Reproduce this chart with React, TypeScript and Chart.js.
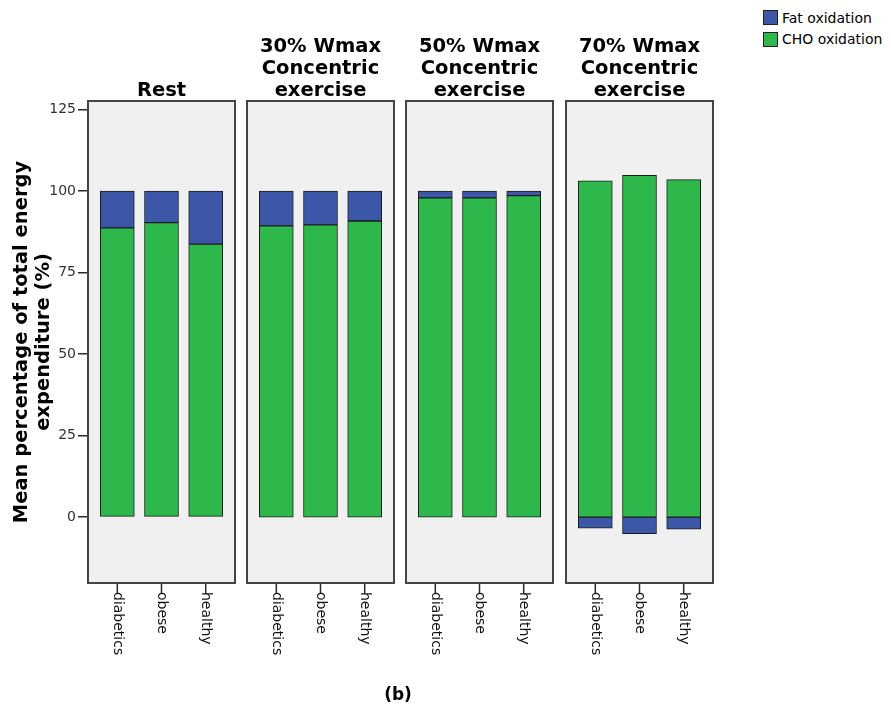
import { useEffect, useRef } from 'react';
import { Chart, registerables } from 'chart.js';

Chart.register(...registerables);

// Groups shown within every condition panel
const groups = ['diabetics', 'obese', 'healthy'];

// One panel per exercise condition
const conditionTitles = [
  ['Rest'],
  ['30% Wmax', 'Concentric', 'exercise'],
  ['50% Wmax', 'Concentric', 'exercise'],
  ['70% Wmax', 'Concentric', 'exercise'],
];

// Mean share of total energy expenditure (%), per condition then group
const choOxidation = [
  [88.7, 90.3, 83.7],
  [89.3, 89.6, 90.8],
  [97.9, 97.9, 98.6],
  [103.1, 104.8, 103.5],
];
const fatOxidation = [
  [11.3, 9.7, 16.3],
  [10.7, 10.4, 9.2],
  [2.1, 2.1, 1.4],
  [-3.4, -5.1, -3.7],
];

const yTickValues = [0, 25, 50, 75, 100, 125];
const yRange = { min: -20.2, max: 127.6 };
const yAxisTitle = ['Mean percentage of total energy', 'expenditure (%)'];
const seriesNames = ['Fat oxidation', 'CHO oxidation'];
const figureLabel = '(b)';

const FAT_COLOR = '#3c56a8';
const CHO_COLOR = '#2eb84b';
const BAR_EDGE = '#1c1c1c';
const PANEL_FILL = '#f0f0f0';
const PANEL_EDGE = '#454545';
const FONT = '"DejaVu Sans", Verdana, sans-serif';

const CANVAS_W = 891;
const CANVAS_H = 711;
const PANEL_TOP = 101;
const PANEL_BOTTOM = 583;
const PANEL_WIDTH = 147;
const panelLefts = [88, 247, 406, 566];
const SIDE = 8;

function framePlugin(index: number) {
  return {
    id: 'panelFrame',
    beforeDatasetsDraw(chart: any) {
      const { ctx, chartArea: a } = chart;
      ctx.save();
      ctx.fillStyle = PANEL_FILL;
      ctx.fillRect(a.left, a.top, a.right - a.left, a.bottom - a.top);
      ctx.restore();
    },
    afterDatasetsDraw(chart: any) {
      const { ctx, chartArea: a } = chart;
      ctx.save();
      ctx.strokeStyle = PANEL_EDGE;
      ctx.lineWidth = 2;
      ctx.strokeRect(a.left, a.top, a.right - a.left, a.bottom - a.top);
      ctx.restore();
    },
    afterDraw(chart: any) {
      const { ctx, chartArea: a } = chart;
      const xScale = chart.scales.x;
      ctx.save();
      // category ticks and labels, reading downwards
      ctx.strokeStyle = '#2a2a2a';
      ctx.lineWidth = 1.5;
      ctx.fillStyle = '#111';
      ctx.font = `14px ${FONT}`;
      ctx.textAlign = 'left';
      ctx.textBaseline = 'middle';
      groups.forEach((g, i) => {
        const x = xScale.getPixelForValue(i);
        ctx.beginPath();
        ctx.moveTo(x, a.bottom + 1);
        ctx.lineTo(x, a.bottom + 11);
        ctx.stroke();
        ctx.save();
        ctx.translate(x, a.bottom + 9);
        ctx.rotate(Math.PI / 2);
        ctx.fillText(g, 0, 0);
        ctx.restore();
      });
      // condition heading, bottom line sits just above the panel
      const lines = conditionTitles[index];
      ctx.fillStyle = '#000';
      ctx.font = `bold 19.5px ${FONT}`;
      ctx.textAlign = 'center';
      ctx.textBaseline = 'alphabetic';
      const cx = (a.left + a.right) / 2;
      lines.forEach((line, k) => {
        const y = a.top - 5 - (lines.length - 1 - k) * 22;
        ctx.fillText(line, cx, y);
      });
      ctx.restore();
    },
  };
}

function Panel({ index }: { index: number }) {
  const ref = useRef<HTMLCanvasElement | null>(null);
  const first = index === 0;
  const left = first ? 0 : panelLefts[index] - SIDE;
  const width = first ? panelLefts[0] + PANEL_WIDTH + SIDE : PANEL_WIDTH + 2 * SIDE;

  useEffect(() => {
    if (!ref.current) return;
    const chart = new Chart(ref.current, {
      type: 'bar',
      data: {
        datasets: [
          {
            label: seriesNames[1],
            data: groups.map((_, i) => ({ x: i, y: choOxidation[index][i] })),
            backgroundColor: CHO_COLOR,
            borderColor: BAR_EDGE,
            borderWidth: 1,
            borderSkipped: false,
            barThickness: 34,
          },
          {
            label: seriesNames[0],
            data: groups.map((_, i) => ({ x: i, y: fatOxidation[index][i] })),
            backgroundColor: FAT_COLOR,
            borderColor: BAR_EDGE,
            borderWidth: 1,
            borderSkipped: false,
            barThickness: 34,
          },
        ],
      },
      options: {
        responsive: false,
        animation: false,
        events: [],
        layout: {
          padding: {
            top: PANEL_TOP,
            bottom: CANVAS_H - PANEL_BOTTOM,
            left: first ? 0 : SIDE,
            right: SIDE,
          },
        },
        plugins: {
          legend: { display: false },
          tooltip: { enabled: false },
          title: { display: false },
        },
        scales: {
          x: {
            type: 'linear',
            min: -0.663,
            max: 2.663,
            offset: false,
            stacked: true,
            display: false,
            afterBuildTicks: (s: any) => {
              s.ticks = groups.map((_, i) => ({ value: i }));
            },
          },
          y: {
            type: 'linear',
            stacked: true,
            min: yRange.min,
            max: yRange.max,
            display: first,
            afterBuildTicks: (s: any) => {
              s.ticks = yTickValues.map((v) => ({ value: v }));
            },
            afterFit: (s: any) => {
              s.width = first ? panelLefts[0] : 0;
            },
            grid: {
              drawOnChartArea: false,
              drawTicks: true,
              tickLength: 10,
              color: '#2a2a2a',
              lineWidth: 1.5,
            },
            border: { display: false },
            ticks: {
              font: { family: FONT, size: 14 },
              color: '#333',
              padding: 2,
            },
            title: {
              display: true,
              text: yAxisTitle,
              color: '#000',
              font: { family: FONT, size: 19.5, weight: 'bold', lineHeight: 1.13 },
              padding: { top: 11, bottom: 0 },
            },
          },
        },
      },
      plugins: [framePlugin(index)],
    } as any);
    return () => chart.destroy();
  }, [index]);

  return (
    <canvas
      ref={ref}
      width={width}
      height={CANVAS_H}
      style={{ position: 'absolute', left, top: 0, width, height: CANVAS_H }}
    />
  );
}

const legendColors = [FAT_COLOR, CHO_COLOR];

export default function App() {
  return (
    <div
      style={{
        position: 'absolute',
        left: 0,
        top: 0,
        width: CANVAS_W,
        height: CANVAS_H,
        background: '#fff',
        overflow: 'hidden',
      }}
    >
      {conditionTitles.map((_, i) => (
        <Panel key={i} index={i} />
      ))}
      {seriesNames.map((name, k) => (
        <div
          key={name}
          style={{
            position: 'absolute',
            left: 763,
            top: 10 + k * 21.7,
            height: 15,
            display: 'flex',
            alignItems: 'center',
            font: `14px ${FONT}`,
            color: '#000',
            whiteSpace: 'nowrap',
          }}
        >
          <span
            style={{
              display: 'inline-block',
              width: 15,
              height: 15,
              boxSizing: 'border-box',
              border: '1px solid #222',
              background: legendColors[k],
              marginRight: 4,
            }}
          />
          {name}
        </div>
      ))}
      <div
        style={{
          position: 'absolute',
          left: 348,
          width: 100,
          top: 684,
          textAlign: 'center',
          font: `bold 17px ${FONT}`,
          color: '#000',
        }}
      >
        {figureLabel}
      </div>
    </div>
  );
}
